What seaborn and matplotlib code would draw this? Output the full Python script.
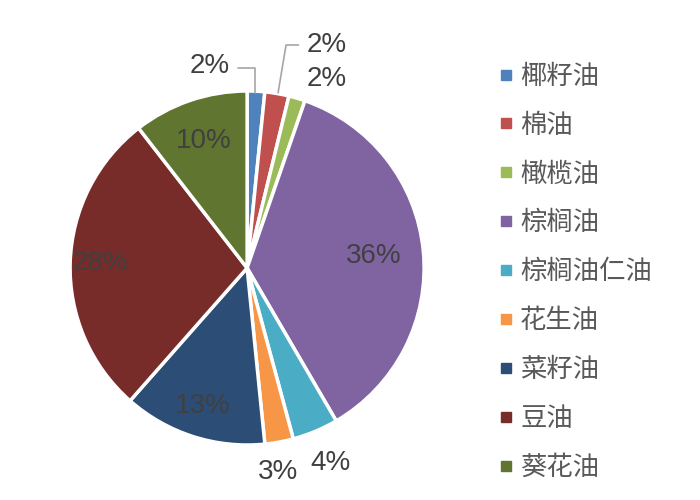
import matplotlib
matplotlib.use("Agg")
import matplotlib.pyplot as plt
import seaborn as sns
import numpy as np
from matplotlib.lines import Line2D

# ---- Data ----
oils = ["椰籽油", "棉油", "橄榄油", "棕榈油", "棕榈油仁油", "花生油", "菜籽油", "豆油", "葵花油"]
shares = [1.6, 2.2, 1.5, 36.3, 4.2, 2.6, 13.1, 28.0, 10.5]
colors = ["#4F81BD", "#C0504D", "#9BBB59", "#8064A2", "#4BACC6",
          "#F79646", "#2C4D75", "#772C2A", "#5F7530"]

sns.set_theme(style="white")
plt.rcParams["font.family"] = ["Liberation Sans", "Noto Sans CJK SC", "DejaVu Sans"]

fig = plt.figure(figsize=(7, 5), dpi=100)
ax = fig.add_axes([0.1, 0.11, 0.506, 0.708])

palette = sns.color_palette(colors)
wedges, _ = ax.pie(shares, colors=palette, startangle=90, counterclock=False,
                   wedgeprops=dict(edgecolor="white", linewidth=2.5))
ax.set_xlim(-1, 1)
ax.set_ylim(-1, 1)
ax.set_aspect("equal")

txt_color = "#404040"
fs = 20
total = sum(shares)
labels = [f"{round(v / total * 100)}%" for v in shares]
labels[2] = "2%"  # shown as 2% in the source

# big slices: label inside
inside = {3: 0.72, 6: 0.82, 7: 0.83, 8: 0.76}
for i, r in inside.items():
    w = wedges[i]
    mid = np.deg2rad((w.theta1 + w.theta2) / 2)
    ax.text(r * np.cos(mid), r * np.sin(mid), labels[i], ha="center", va="center",
            fontsize=fs, color=txt_color)

# small slices: label outside
ax.text(-0.21, 1.14, labels[0], ha="center", va="center", fontsize=fs, color=txt_color)
ax.plot([-0.05, 0.045, 0.045], [1.13, 1.13, 0.99], color="#A6A6A6", lw=1.2, clip_on=False)
ax.text(0.45, 1.26, labels[1], ha="center", va="center", fontsize=fs, color=txt_color)
ax.plot([0.29, 0.22, 0.175], [1.26, 1.26, 0.99], color="#A6A6A6", lw=1.2, clip_on=False)
ax.text(0.45, 1.07, labels[2], ha="center", va="center", fontsize=fs, color=txt_color)
ax.text(0.47, -1.10, labels[4], ha="center", va="center", fontsize=fs, color=txt_color)
ax.text(0.175, -1.155, labels[5], ha="center", va="center", fontsize=fs, color=txt_color)

handles = [Line2D([0], [0], marker="s", linestyle="none", markersize=6.5,
                  markerfacecolor=c, markeredgecolor=c) for c in colors]
leg = fig.legend(handles, oils, loc="upper left", bbox_to_anchor=(0.696, 0.892),
                 frameon=False, fontsize=19, labelspacing=0.93, handletextpad=0.25,
                 handlelength=0.6, borderaxespad=0)
for t in leg.get_texts():
    t.set_color("#595959")

fig.savefig("out.png", dpi=100, facecolor="white")
